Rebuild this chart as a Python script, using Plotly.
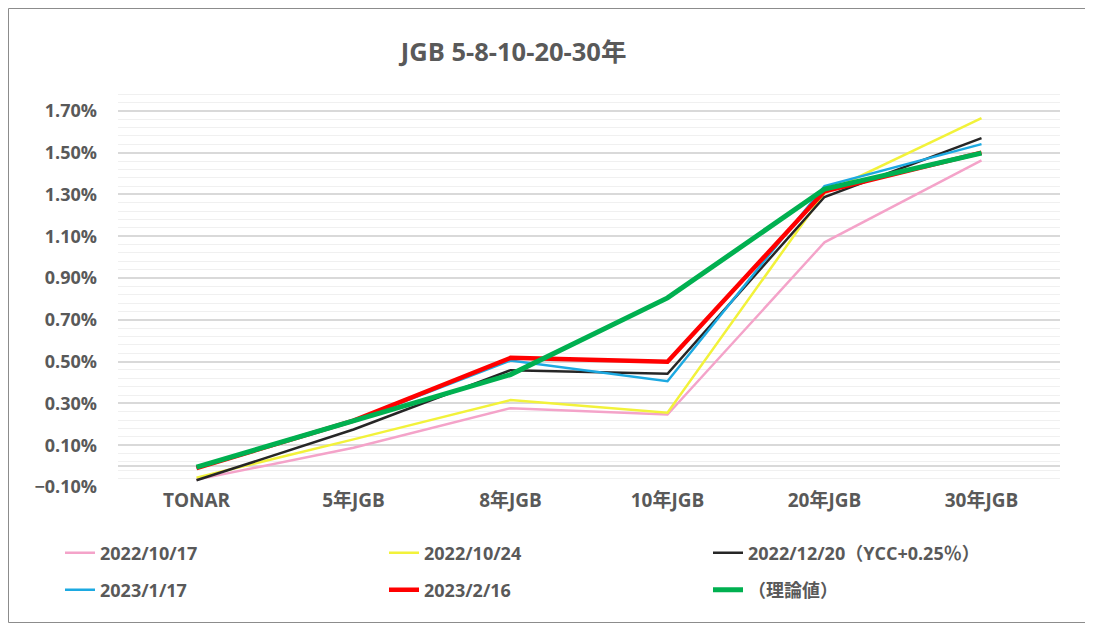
import plotly.graph_objects as go

# Data (yield, %)
maturities = ['TONAR', '5年JGB', '8年JGB', '10年JGB', '20年JGB', '30年JGB']

y_20221017 = [-0.065, 0.088, 0.277, 0.247, 1.071, 1.463]
y_20221024 = [-0.055, 0.128, 0.316, 0.255, 1.307, 1.665]
y_20221220 = [-0.068, 0.175, 0.459, 0.442, 1.288, 1.570]
y_20230117 = [-0.010, 0.215, 0.505, 0.406, 1.340, 1.541]
y_20230216 = [-0.010, 0.218, 0.518, 0.499, 1.315, 1.500]
y_theory = [-0.005, 0.215, 0.438, 0.805, 1.326, 1.498]

series_names = ['2022/10/17', '2022/10/24', '2022/12/20（YCC+0.25％）',
                '2023/1/17', '2023/2/16', '（理論値）']
series_values = [y_20221017, y_20221024, y_20221220, y_20230117, y_20230216, y_theory]
series_colors = ['#F4A3C9', '#F2F23A', '#262626', '#1CA9E1', '#FF0000', '#00B050']
series_widths = [2.4, 2.5, 2.5, 2.5, 4.5, 5]
series_legend = ['legend', 'legend', 'legend', 'legend2', 'legend2', 'legend2']

FONT = '"Open Sans", "Noto Sans CJK JP", sans-serif'
GREY = '#595959'

# page has an 8px body margin, so the figure is shrunk to fit the window
W, H = 1085, 615
ML, MR, MT, MB = 110, 33, 82, 136
PW, PH = W - ML - MR, H - MT - MB

fig = go.Figure()
for name, vals, col, w, lg in zip(series_names, series_values, series_colors,
                                  series_widths, series_legend):
    fig.add_trace(go.Scatter(
        x=maturities, y=vals, mode='lines', name=name, legend=lg,
        line=dict(color=col, width=w)
    ))

legend_style = dict(
    orientation='h', xanchor='left', yanchor='middle',
    entrywidth=279, entrywidthmode='pixels', itemwidth=30,
    font=dict(family=FONT, size=18, color=GREY, weight='bold'),
    bgcolor='rgba(0,0,0,0)'
)

fig.update_layout(
    width=W, height=H,
    paper_bgcolor='white', plot_bgcolor='white',
    margin=dict(l=ML, r=MR, t=MT, b=MB),
    title=dict(text='<b>JGB 5-8-10-20-30年</b>', x=0.466, xanchor='center',
               y=1 - 44 / H, yanchor='middle',
               font=dict(family=FONT, size=25.5, color=GREY)),
    font=dict(family=FONT, color=GREY),
    xaxis=dict(
        type='category', range=[-0.5, 5.5], showgrid=False, showline=False,
        ticks='', tickfont=dict(family=FONT, size=19, color=GREY),
        tickprefix='<b>', ticksuffix='</b>'
    ),
    yaxis=dict(
        range=[-0.1, 1.8], tick0=-0.1, dtick=0.2, tickformat='.2f',
        ticksuffix='%', tickprefix='<b>', showgrid=True,
        gridcolor='#D9D9D9', gridwidth=1.5,
        minor=dict(tick0=-0.1, dtick=0.04, showgrid=True,
                   gridcolor='#F0F0F0', gridwidth=1),
        zeroline=True, zerolinecolor='#D9D9D9', zerolinewidth=1.5,
        showline=False, ticks='', ticklabelstandoff=20,
        tickfont=dict(family=FONT, size=18, color=GREY)
    ),
    legend=dict(legend_style, x=(52 - ML) / PW, y=(MT + PH - 545) / PH),
    legend2=dict(legend_style, x=(52 - ML) / PW, y=(MT + PH - 582) / PH),
    shapes=[dict(type='rect', xref='paper', yref='paper',
                 x0=-(ML - 0.5) / PW, x1=1 + (MR - 0.5) / PW,
                 y0=-(MB - 0.5) / PH, y1=1 + (MT - 0.5) / PH,
                 line=dict(color='#8C8C8C', width=1), fillcolor='rgba(0,0,0,0)',
                 layer='below')]
)

fig.write_html('out.html')
